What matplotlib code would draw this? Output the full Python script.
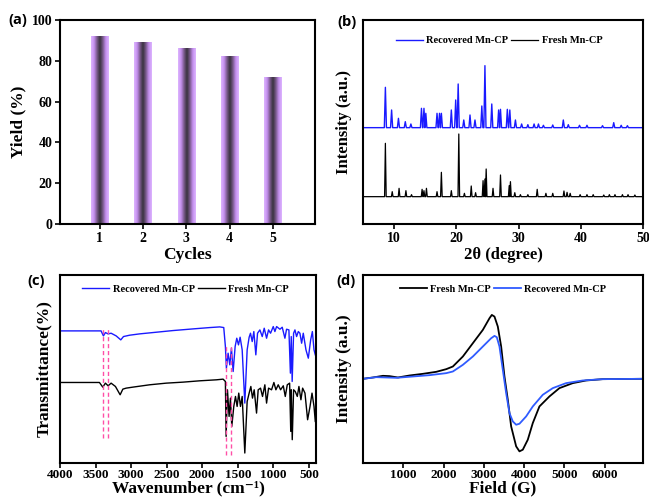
import matplotlib
matplotlib.use("Agg")
import matplotlib.pyplot as plt
from matplotlib.colors import LinearSegmentedColormap
import numpy as np

# (a) recycling yields
cycles = [1, 2, 3, 4, 5]
yields = [92, 89, 86, 82, 72]

# (b) PXRD peak lists (2theta, peak top in arbitrary units)
xrd_rec_pos = [8.6, 9.6, 10.7, 11.8, 12.7, 14.4, 14.8, 15.1, 16.9, 17.3, 17.6, 19.2, 19.9, 20.3,
               21.2, 22.2, 23.0, 24.1, 24.6, 25.7, 26.8, 27.1, 28.2, 28.6, 29.5, 30.5, 31.5,
               32.5, 33.2, 34.0, 35.5, 37.2, 38.0, 39.8, 41.0, 43.5, 45.3, 46.5, 47.5]
xrd_rec_top = [410, 342, 317, 307, 300, 347, 347, 332, 332, 332, 332, 342, 372, 420,
               312, 327, 312, 354, 475, 360, 342, 344, 344, 342, 312, 300, 298,
               300, 300, 296, 297, 312, 298, 296, 296, 295, 304, 296, 295]
xrd_rec_base = 289
xrd_fresh_pos = [8.6, 9.7, 10.8, 11.9, 12.8, 14.5, 14.8, 15.2, 16.9, 17.6, 19.2, 20.4, 21.3,
                 22.4, 23.1, 24.3, 24.6, 24.8, 25.9, 27.1, 28.5, 28.7, 29.4, 30.3, 31.5,
                 33.0, 34.4, 35.5, 37.3, 37.8, 38.3, 39.9, 41.0, 42.0, 43.7, 44.6, 45.5,
                 46.7, 47.6, 48.7]
xrd_fresh_top = [242, 97, 107, 100, 88, 104, 100, 107, 97, 155, 100, 270, 92,
                 114, 94, 130, 135, 165, 107, 147, 115, 127, 94, 88, 88,
                 104, 92, 92, 99, 95, 92, 88, 88, 88, 87, 88, 88,
                 88, 88, 87]
xrd_fresh_base = 82

# (c) FT-IR traces (wavenumber, transmittance in a.u.)
ir_rec_wn = [4000, 3422, 3389, 3361, 3323, 3281, 3210, 3145, 3107, 3022, 2881, 2646, 2411, 2129,
             1894, 1753, 1697, 1674, 1660, 1636, 1612, 1589, 1565, 1537, 1514, 1490, 1467, 1438,
             1401, 1368, 1340, 1321, 1297, 1274, 1246, 1222, 1189, 1156, 1128, 1095, 1067, 1039,
             1001, 978, 954, 907, 875, 837, 814, 781, 760, 748, 735, 715, 696, 673, 649, 626,
             602, 579, 541, 508, 475, 451, 428, 410]
ir_rec_t = [397, 397, 382, 392, 388, 390, 382, 370, 380, 384, 388, 393, 398, 403,
            407, 409, 407, 350, 285, 330, 295, 345, 275, 350, 375, 355, 378, 340,
            180, 340, 378, 390, 365, 395, 325, 390, 400, 380, 405, 375, 400, 390,
            410, 395, 410, 402, 408, 375, 402, 400, 270, 380, 245, 390, 400, 380, 395, 390,
            360, 390, 340, 315, 370, 395, 340, 325]
ir_fresh_wn = [4000, 3445, 3398, 3361, 3323, 3281, 3220, 3154, 3116, 3069, 2975, 2740, 2505, 2270,
               2035, 1800, 1706, 1674, 1664, 1645, 1622, 1603, 1584, 1556, 1532, 1509, 1486, 1462,
               1438, 1401, 1368, 1340, 1316, 1293, 1269, 1236, 1213, 1180, 1152, 1119, 1095, 1067,
               1025, 992, 964, 931, 898, 860, 832, 804, 771, 755, 748, 734, 715, 692, 663, 640,
               612, 588, 555, 518, 484, 456, 428, 410]
ir_fresh_t = [242, 242, 228, 240, 232, 240, 230, 205, 222, 225, 228, 235, 240, 243,
              247, 250, 252, 245, 80, 220, 140, 195, 110, 170, 200, 170, 210, 170,
              200, 30, 185, 210, 230, 195, 220, 150, 220, 225, 200, 235, 180, 225,
              220, 242, 220, 235, 220, 232, 200, 235, 240, 95, 220, 70, 220, 215, 200, 230,
              190, 225, 210, 130, 170, 210, 170, 125]
ir_marks = [3398, 3323, 1659, 1594]

# (d) EPR traces (field in G, intensity a.u.)
epr_fresh_b = [0, 248, 496, 661, 868, 1157, 1488, 1818, 2066, 2231, 2479, 2727, 2975, 3140, 3198,
               3264, 3347, 3430, 3512, 3595, 3678, 3802, 3884, 3967, 4091, 4215, 4380, 4628,
               4876, 5207, 5537, 5950, 6942]
epr_fresh_i = [0, 4, 9, 8, 4, 10, 15, 21, 29, 37, 67, 107, 147, 182, 192,
               187, 157, 97, 7, -63, -143, -203, -218, -213, -183, -133, -83, -53,
               -28, -13, -5, -1, 0]
epr_rec_b = [0, 331, 579, 826, 1240, 1653, 2066, 2231, 2479, 2727, 2975, 3182, 3264, 3322, 3388,
             3471, 3554, 3636, 3719, 3802, 3884, 4050, 4215, 4463, 4711, 5041, 5455, 5950, 6942]
epr_rec_i = [0, 5, 4, 3, 7, 11, 17, 22, 42, 67, 97, 122, 129, 125, 97,
             27, -43, -103, -128, -138, -135, -113, -83, -48, -28, -13, -5, -1, 0]

serif = ["Liberation Serif", "DejaVu Serif"]
leg_prop = dict(family=serif, weight="bold", size=7.5)
blue = "#1a1aff"
epr_blue = "#2f5bff"


def style(ax, tsize=9.5, yticks=True, pad=2):
    for s in ax.spines.values():
        s.set_linewidth(1.5)
    ax.tick_params(direction="out", length=3.5, width=1.2, pad=pad)
    for lab in ax.get_xticklabels() + ax.get_yticklabels():
        lab.set_fontfamily(serif)
        lab.set_fontweight("bold")
        lab.set_fontsize(tsize)
    if not yticks:
        ax.set_yticks([])


def sticks(pos, top, base, lo, hi, w=0.15):
    x = [lo]
    y = [base]
    for p, t in zip(pos, top):
        x += [p - w, p, p + w]
        y += [base, t, base]
    x.append(hi)
    y.append(base)
    return x, y


def lab_font(size):
    return dict(family=serif, weight="bold", size=size)


fig = plt.figure(figsize=(6.49, 4.97), dpi=100)

# ---- (a)
ax = fig.add_axes([0.0924, 0.5493, 0.3929, 0.4105])
cmap = LinearSegmentedColormap.from_list("bar", ["#ddb6ff", "#c590f0", "#7a5a8c", "#35303a",
                                                 "#7a5a8c", "#c590f0", "#ddb6ff"])
grad = np.linspace(0, 1, 64).reshape(1, -1)
bw = 0.4
for c, v in zip(cycles, yields):
    ax.imshow(grad, extent=[c - bw / 2, c + bw / 2, 0, v], aspect="auto", cmap=cmap,
              interpolation="bicubic", zorder=2)
ax.set_xlim(0.08, 5.97)
ax.set_ylim(0, 100)
ax.set_xticks(cycles)
ax.set_yticks([0, 20, 40, 60, 80, 100])
ax.set_xlabel("Cycles", labelpad=2, **lab_font(12.5))
ax.set_ylabel("Yield (%)", labelpad=4, **lab_font(12.5))
style(ax, 10)

# ---- (b)
ax = fig.add_axes([0.5593, 0.5493, 0.4314, 0.4105])
x, y = sticks(xrd_rec_pos, xrd_rec_top, xrd_rec_base, 5, 50, w=0.17)
ax.plot(x, y, color=blue, lw=1.0, label="Recovered Mn-CP")
x, y = sticks(xrd_fresh_pos, xrd_fresh_top, xrd_fresh_base, 5, 50, w=0.13)
ax.plot(x, y, color="black", lw=0.9, label="Fresh Mn-CP")
ax.set_xlim(5, 50)
ax.set_ylim(0, 612)
ax.set_xticks([10, 20, 30, 40, 50])
ax.set_xlabel("2θ (degree)", labelpad=2, **lab_font(12))
ax.set_ylabel("Intensity (a.u.)", labelpad=8, **lab_font(12))
ax.legend(loc="center", bbox_to_anchor=(0.486, 0.898), ncol=2, frameon=False, prop=leg_prop,
          handlelength=2.6, handletextpad=0.3, columnspacing=0.3)
style(ax, 10, yticks=False)

# ---- (c)
ax = fig.add_axes([0.0924, 0.0684, 0.3945, 0.3783])
ax.plot(ir_rec_wn, ir_rec_t, color=blue, lw=1.0, label="Recovered Mn-CP")
ax.plot(ir_fresh_wn, ir_fresh_t, color="black", lw=1.0, label="Fresh Mn-CP")
ax.vlines(ir_marks[:2], 75, 408, colors="#ff4fa7", linestyles=(0, (3, 2)), lw=1.0)
ax.vlines(ir_marks[2:], 25, 355, colors="#ff4fa7", linestyles=(0, (3, 2)), lw=1.0)
ax.set_xlim(4000, 400)
ax.set_ylim(0, 565)
ax.set_xticks([4000, 3500, 3000, 2500, 2000, 1500, 1000, 500])
ax.set_xlabel("Wavenumber (cm⁻¹)", va="bottom", **lab_font(12.5))
ax.xaxis.set_label_coords(0.5, -0.177)
ax.set_ylabel("Transmittance(%)", labelpad=6, **lab_font(12.5))
ax.legend(loc="center", bbox_to_anchor=(0.49, 0.925), ncol=2, frameon=False, prop=leg_prop,
          handlelength=2.6, handletextpad=0.3, columnspacing=0.3)
style(ax, 9.5, yticks=False, pad=1)

# ---- (d)
ax = fig.add_axes([0.5593, 0.0684, 0.4314, 0.3783])
ax.plot(epr_fresh_b, epr_fresh_i, color="black", lw=1.3, label="Fresh Mn-CP")
ax.plot(epr_rec_b, epr_rec_i, color=epr_blue, lw=1.3, label="Recovered Mn-CP")
ax.set_xlim(0, 6950)
ax.set_ylim(-253, 312)
ax.set_xticks([1000, 2000, 3000, 4000, 5000, 6000])
ax.set_xlabel("Field (G)", va="bottom", **lab_font(12.5))
ax.xaxis.set_label_coords(0.5, -0.177)
ax.set_ylabel("Intensity (a.u.)", labelpad=8, **lab_font(12.5))
ax.legend(loc="center", bbox_to_anchor=(0.50, 0.925), ncol=2, frameon=False, prop=leg_prop,
          handlelength=2.6, handletextpad=0.3, columnspacing=0.3)
style(ax, 9.5, yticks=False, pad=1)

# panel letters
lab = dict(family="Open Sans", weight="bold", size=10.5, ha="center", va="center")
fig.text(18 / 649, 1 - 20 / 497, "(a)", **lab)
fig.text(347 / 649, 1 - 22 / 497, "(b)", **lab)
fig.text(36 / 649, 1 - 281 / 497, "(c)", **lab)
fig.text(346 / 649, 1 - 281 / 497, "(d)", **lab)

fig.savefig("out.png", dpi=100)
